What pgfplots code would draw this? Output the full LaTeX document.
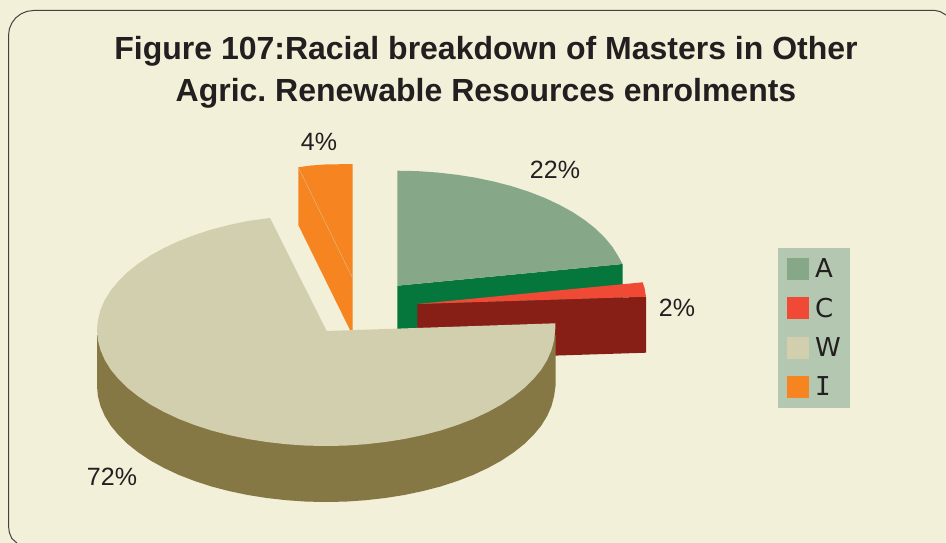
\documentclass[border=0pt]{standalone}
\usepackage{pgfplots}
\pgfplotsset{compat=1.18}
\usepackage{fontspec}
\setmainfont{Liberation Sans}
\newfontfamily\legendfont{DejaVu Sans}
\newfontfamily\legendmono{DejaVu Sans Mono}
\definecolor{bgc}{HTML}{F2F0D9}
\definecolor{ink}{HTML}{231F20}
\definecolor{Atop}{HTML}{86A888}
\definecolor{Aside}{HTML}{06773C}
\definecolor{Ctop}{HTML}{F04A36}
\definecolor{Cside}{HTML}{871F17}
\definecolor{Wtop}{HTML}{D2CFAF}
\definecolor{Wside}{HTML}{857845}
\definecolor{Itop}{HTML}{F68521}
\definecolor{legbg}{HTML}{B4C7B0}
\frenchspacing
\begin{document}
\begin{tikzpicture}
\begin{axis}[
  scale only axis, width=946pt, height=543pt,
  xmin=0, xmax=946, ymin=0, ymax=543, y dir=reverse,
  hide axis, clip=true,
  legend cell align=left,
  legend image code/.code={\path[draw=none,fill=none] (0pt,0pt) -- (34pt,0pt);\fill[#1,draw=none] (9pt,-11pt) rectangle (31pt,11pt);},
  legend style={at={(axis cs:778,248)}, anchor=north west, draw=none, fill=legbg,
    inner xsep=0pt, inner ysep=9.5pt, row sep=17.5pt,
    font=\fontsize{26}{26}\selectfont\legendfont, text=ink,
    nodes={inner xsep=3pt, inner ysep=0pt, text width=32pt}},
]
% background
\addplot[fill=bgc, draw=none, forget plot] coordinates {(0,0) (946,0) (946,543) (0,543)} \closedcycle;
% rounded frame
\addplot[draw=ink!85, line width=1pt, forget plot] coordinates {
 (17,543) (15.8,542) (11.85,538.5) (9.35,532.5) (8.5,526) (8.5,35.5) (9.35,29) (11.85,23) (15.8,17.8) (21,13.85) (27,11.35) (33.5,10.5)
 (935,10.5) (940,11.5) (946,15)};
% A side and top
\addplot[fill=Aside, draw=none, forget plot] coordinates {(397.3,285.7) (622.5,264) (622.5,300) (397.3,335)} --cycle;
\addplot[fill=Atop, draw=none, forget plot] coordinates {(397.3,285.7) (397.3,170.7) (417.3,171.1) (437.1,172.5) (456.6,174.7) (475.6,177.7) (494.1,181.6) (511.8,186.2) (528.7,191.7) (544.5,197.8) (559.2,204.7) (572.7,212.1) (584.9,220.2) (595.6,228.7) (604.8,237.7) (612.5,247) (618.5,256.7) (622.5,264)} --cycle;
% C side and top
\addplot[fill=Cside, draw=none, forget plot] coordinates {(417.3,304) (646,296.7) (646,352.7) (417.3,360)} --cycle;
\addplot[fill=Ctop, draw=none, forget plot] coordinates {(417.3,304) (642.7,282.3) (644.5,288) (646,296.7)} --cycle;
% I side and top
\addplot[fill=Itop, draw=none, forget plot] coordinates {(298.3,167.3) (298.3,225) (352.7,335.5) (352.7,278.3)} --cycle;
\addplot[fill=Itop, draw=none, forget plot] coordinates {(298.3,167.3) (311,165.5) (325,164.5) (352.7,164) (352.7,278.3)} --cycle;
\addplot[draw=Wtop!70!Itop, line width=0.4pt, forget plot] coordinates {(298.3,167.3) (352.7,278.3)};
% W side
\addplot[fill=Wside, draw=none, forget plot] coordinates {(555.5,335) (555.5,386) (554.1,396.1) (551.5,406.1) (547.2,416) (541.2,425.7) (533.5,435) (524.3,444) (513.6,452.5) (501.4,460.6) (487.9,468) (473.2,474.9) (457.4,481) (440.5,486.5) (422.8,491.1) (404.3,495) (385.3,498) (365.8,500.2) (346,501.6) (326,502) (306,501.6) (286.2,500.2) (266.7,498) (247.7,495) (229.2,491.1) (211.5,486.5) (194.6,481) (178.8,474.9) (164.1,468) (150.6,460.6) (138.4,452.5) (127.7,444) (118.5,435) (110.8,425.7) (104.8,416) (100.5,406.1) (97.9,396.1) (97,386) (97,335) (326,400)} --cycle;
% W top
\addplot[fill=Wtop, draw=none, forget plot] coordinates {(326.7,331) (555.5,323.3) (555.2,330) (554.1,340.1) (551.5,350.1) (547.2,360) (541.2,369.7) (533.5,379) (524.3,388) (513.6,396.5) (501.4,404.6) (487.9,412) (473.2,418.9) (457.4,425) (440.5,430.5) (422.8,435.1) (404.3,439) (385.3,442) (365.8,444.2) (346,445.6) (326,446) (306,445.6) (286.2,444.2) (266.7,442) (247.7,439) (229.2,435.1) (211.5,430.5) (194.6,425) (178.8,418.9) (164.1,412) (150.6,404.6) (138.4,396.5) (127.7,388) (118.5,379) (110.8,369.7) (104.8,360) (100.5,350.1) (97.9,340.1) (97,330) (97.9,319.9) (100.5,309.9) (104.8,300) (110.8,290.3) (118.5,281) (127.7,272) (138.4,263.5) (150.6,255.4) (164.1,248) (178.8,241.1) (194.6,235) (211.5,229.5) (229.2,224.9) (247.7,221) (270,218)} --cycle;
% legend
\addlegendimage{fill=Atop}\addlegendentry{A}
\addlegendimage{fill=Ctop}\addlegendentry{C}
\addlegendimage{fill=Wtop}\addlegendentry{W}
\addlegendimage{fill=Itop}\addlegendentry{{\legendmono I}}
% title and labels
\node[font=\fontsize{32}{42}\selectfont\bfseries, text=ink, align=center, anchor=north] at (axis cs:486,33) {Figure 107:Racial breakdown of Masters in Other\\Agric. Renewable Resources enrolments};
\node[font=\fontsize{25}{25}\selectfont, text=ink] at (axis cs:319,142) {4\%};
\node[font=\fontsize{25}{25}\selectfont, text=ink] at (axis cs:555,170) {22\%};
\node[font=\fontsize{25}{25}\selectfont, text=ink] at (axis cs:677,308) {2\%};
\node[font=\fontsize{25}{25}\selectfont, text=ink] at (axis cs:112,477) {72\%};
\end{axis}
\end{tikzpicture}
\end{document}
